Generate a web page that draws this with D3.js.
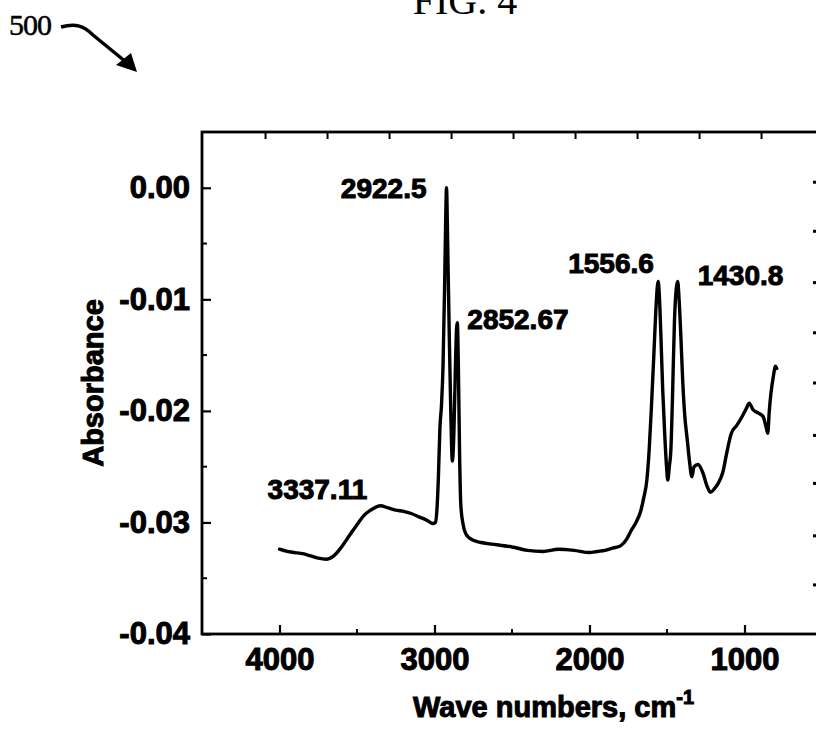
<!DOCTYPE html>
<html>
<head>
<meta charset="utf-8">
<script src="https://cdn.jsdelivr.net/npm/d3@7"></script>
<style>
  html, body { margin: 0; padding: 0; background: #fff; overflow: hidden; }
  svg { display: block; }
  .lbl { font-family: "Liberation Sans", Arial, sans-serif; font-weight: bold; fill: #000; stroke: #000; stroke-width: 1px; }
  .serif { font-family: "Liberation Serif", "Times New Roman", serif; fill: #000; }
</style>
</head>
<body>
<script>
// ---------- data ----------
const waveNumbers = [4000,3950,3900,3850,3800,3750,3700,3650,3600,3550,3500,3450,3400,3350,3300,3250,3200,3150,3100,3050,3010,2995,2985,2975,2965,2955,2945,2935,2928,2922.5,2915,2905,2895,2885,2875,2865,2857,2852.67,2846,2838,2830,2815,2790,2750,2700,2600,2500,2400,2300,2200,2100,2000,1950,1900,1850,1800,1760,1730,1700,1670,1650,1630,1615,1600,1585,1572,1562,1556.6,1550,1540,1528,1515,1503,1495,1485,1475,1465,1452,1440,1430.8,1422,1410,1398,1385,1370,1355,1340,1325,1300,1270,1240,1220,1195,1170,1140,1115,1085,1050,1015,985,970,945,910,880,860,850,840,830,815,800,792];
const absorbance = [-0.0324,-0.0326,-0.0327,-0.0328,-0.0330,-0.0332,-0.0333,-0.0330,-0.0322,-0.0312,-0.0302,-0.0293,-0.0288,-0.0285,-0.0287,-0.0289,-0.0290,-0.0292,-0.0295,-0.0298,-0.0301,-0.0300,-0.0290,-0.0260,-0.0215,-0.0195,-0.0160,-0.0090,-0.0030,0.0000,-0.0050,-0.0130,-0.0200,-0.0245,-0.0220,-0.0160,-0.0125,-0.0121,-0.0160,-0.0240,-0.0285,-0.0302,-0.0312,-0.0316,-0.0318,-0.0320,-0.0322,-0.0325,-0.0326,-0.0324,-0.0325,-0.0327,-0.0326,-0.0325,-0.0323,-0.0321,-0.0315,-0.0307,-0.0300,-0.0290,-0.0278,-0.0262,-0.0235,-0.0195,-0.0150,-0.0110,-0.0088,-0.0084,-0.0095,-0.0130,-0.0180,-0.0220,-0.0250,-0.0262,-0.0250,-0.0235,-0.0190,-0.0120,-0.0090,-0.0084,-0.0100,-0.0135,-0.0175,-0.0205,-0.0225,-0.0245,-0.0259,-0.0250,-0.0248,-0.0255,-0.0268,-0.0273,-0.0270,-0.0265,-0.0255,-0.0238,-0.0220,-0.0213,-0.0205,-0.0197,-0.0193,-0.0199,-0.0202,-0.0205,-0.0215,-0.0220,-0.0200,-0.0185,-0.0170,-0.0160,-0.0162];

const peakLabels = ["2922.5","2852.67","1556.6","1430.8","3337.11"];
const peakLabelWave = [2922.5, 2852.67, 1556.6, 1430.8, 3337.11];

const xTicks = [4000,3000,2000,1000];
const xTickLabels = ["4000","3000","2000","1000"];
const xMinorTicks = [3500,2500,1500];
const topTicks = [4090,3690,3290,2890,2490,2090,1690,1290,890];

const yTicks = [0,-0.01,-0.02,-0.03,-0.04];
const yTickLabels = ["0.00","-0.01","-0.02","-0.03","-0.04"];
const yMinorTicks = [-0.005,-0.015,-0.025,-0.035];
const rightTicks = [0.0005,-0.0039,-0.0085,-0.0130,-0.0175,-0.0222,-0.0265,-0.0312,-0.0356];

const title = "FIG. 4";
const refNumber = "500";
const xTitle = "Wave numbers, cm";
const xTitleSup = "-1";
const yTitle = "Absorbance";

// ---------- layout ----------
const W = 816, H = 734;
const L = 202, R = 822, T = 132, B = 634;

const svg = d3.select("body").append("svg").attr("width", W).attr("height", H);

const x = d3.scaleLinear().domain([4500, 500]).range([L, R]);
const y = d3.scaleLinear().domain([-0.04, 0.005]).range([B, T]);

// title and reference numeral
svg.append("text").attr("class","serif").attr("x", 465).attr("y", 14)
  .attr("text-anchor","middle").attr("font-size", 40).text(title);
svg.append("text").attr("class","serif").attr("x", 9).attr("y", 35)
  .attr("font-size", 30).attr("textLength", 43).attr("stroke","#000").attr("stroke-width",0.5).text(refNumber);
svg.append("path").attr("d","M61,27 C76,23 84,26 93,35 L126,62")
  .attr("fill","none").attr("stroke","#000").attr("stroke-width",3.4);
svg.append("path").attr("d","M137,72 L116,65 L131,53 Z").attr("fill","#000");

// frame
svg.append("rect").attr("x", L).attr("y", T).attr("width", R - L).attr("height", B - T)
  .attr("fill","none").attr("stroke","#000").attr("stroke-width",2.8);

// bottom axis
const ax = svg.append("g").attr("transform",`translate(0,${B})`)
  .call(d3.axisBottom(x).tickValues(xTicks).tickSizeInner(-9).tickSizeOuter(0).tickPadding(14)
    .tickFormat((d,i) => xTickLabels[i]));
ax.select(".domain").remove();
ax.selectAll("line").attr("stroke-width",2.2);
ax.selectAll("text").attr("class","lbl").attr("font-size",31).attr("dy","0.71em");

svg.append("g").selectAll("line").data(xMinorTicks).join("line")
  .attr("x1", d => x(d)).attr("x2", d => x(d)).attr("y1", B).attr("y2", B - 5)
  .attr("stroke","#000").attr("stroke-width",2);

// top axis ticks
svg.append("g").selectAll("line").data(topTicks).join("line")
  .attr("x1", d => x(d)).attr("x2", d => x(d)).attr("y1", T).attr("y2", T + 7)
  .attr("stroke","#000").attr("stroke-width",2);

// left axis
const ay = svg.append("g").attr("transform",`translate(${L},0)`)
  .call(d3.axisLeft(y).tickValues(yTicks).tickSizeInner(-9).tickSizeOuter(0).tickPadding(12)
    .tickFormat((d,i) => yTickLabels[i]));
ay.select(".domain").remove();
ay.selectAll("line").attr("stroke-width",2.2);
ay.selectAll("text").attr("class","lbl").attr("font-size",31);

svg.append("g").selectAll("line").data(yMinorTicks).join("line")
  .attr("x1", L).attr("x2", L + 5).attr("y1", d => y(d)).attr("y2", d => y(d))
  .attr("stroke","#000").attr("stroke-width",2);

// right axis ticks
svg.append("g").selectAll("line").data(rightTicks).join("line")
  .attr("x1", R).attr("x2", R - 9).attr("y1", d => y(d)).attr("y2", d => y(d))
  .attr("stroke","#000").attr("stroke-width",3);

// axis titles
svg.append("text").attr("class","lbl").attr("font-size",29)
  .attr("transform","translate(103,383) rotate(-90)").attr("text-anchor","middle").text(yTitle);
const xt = svg.append("text").attr("class","lbl").attr("x", 413).attr("y", 717).attr("font-size",29);
xt.append("tspan").text(xTitle);
xt.append("tspan").attr("font-size",20).attr("dy",-13).text(xTitleSup);

// spectrum
const pts = waveNumbers.map((w,i) => [w, absorbance[i]]);
svg.append("path").datum(pts)
  .attr("d", d3.line().x(d => x(d[0])).y(d => y(d[1])).curve(d3.curveMonotoneX))
  .attr("fill","none").attr("stroke","#000").attr("stroke-width",3.4).attr("stroke-linejoin","round").attr("stroke-linecap","round");

// peak annotations
const annoPos = [
  {anchor:"end", dx:-20, y:198},
  {anchor:"start", dx:10, y:329},
  {anchor:"start", dx:-90, y:273},
  {anchor:"start", dx:20, y:285},
  {anchor:"end", dx:-15, y:499}
];
svg.append("g").selectAll("text").data(peakLabels).join("text")
  .attr("class","lbl").attr("font-size",28)
  .attr("x", (d,i) => x(peakLabelWave[i]) + annoPos[i].dx)
  .attr("y", (d,i) => annoPos[i].y)
  .attr("text-anchor", (d,i) => annoPos[i].anchor)
  .text(d => d);
</script>
</body>
</html>
